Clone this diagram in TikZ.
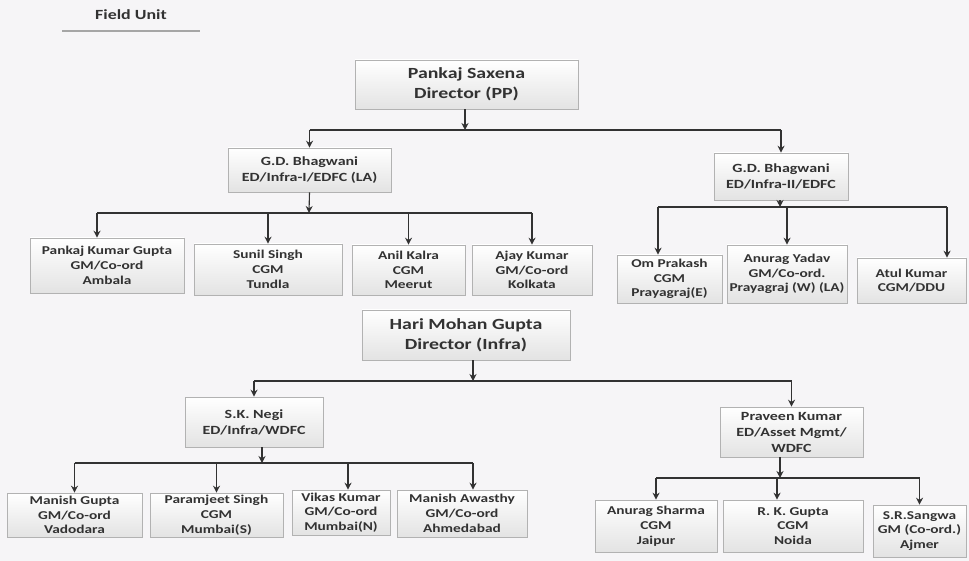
\documentclass[tikz,border=0pt]{standalone}
\usepackage{fontspec}
\setmainfont{Carlito}[FakeStretch=1.28]
\usetikzlibrary{arrows.meta,calc}
\definecolor{bg}{RGB}{246,245,247}
\definecolor{ink}{RGB}{50,50,50}
\begin{document}
\begin{tikzpicture}[x=1pt,y=-1pt,
  box/.style={draw=gray!60, line width=0.6pt, top color=white, bottom color=gray!22, align=center, inner sep=1pt, text=ink},
  big/.style={box, font=\fontsize{15.5}{20}\selectfont\bfseries},
  mid/.style={box, font=\fontsize{12.5}{16}\selectfont\bfseries},
  sml/.style={box, font=\fontsize{12}{14.8}\selectfont\bfseries},
  conn/.style={draw=ink, line width=1.1pt},
  arr/.style={conn, -{Stealth[length=7pt,width=7pt]}},
]
\fill[bg] (0,0) rectangle (969,561);
\useasboundingbox (0,0) rectangle (969,561);

% title
\node[font=\fontsize{14}{16}\selectfont\bfseries, text=ink] (fu) at (131,15) {Field Unit};
\coordinate (ul1) at (62,31);
\coordinate (ul2) at (200,31);
\draw[gray!70, line width=1.2pt] (ul1) -- (ul2);

% top group
\node[big, minimum width=223pt, minimum height=49pt] (ps) at (466.5,84.5) {Pankaj Saxena\\Director (PP)};
\node[mid, minimum width=163pt, minimum height=44pt] (ed1) at (309.5,170) {G.D. Bhagwani\\ED/Infra-I/EDFC (LA)};
\node[mid, minimum width=134pt, minimum height=47pt] (ed2) at (781,176.5) {G.D. Bhagwani\\ED/Infra-II/EDFC};

\node[sml, minimum width=154pt, minimum height=55pt] (a1) at (107,265.5) {Pankaj Kumar Gupta\\GM/Co-ord\\Ambala};
\node[sml, minimum width=148pt, minimum height=51pt] (a2) at (268,269.5) {Sunil Singh\\CGM\\Tundla};
\node[sml, minimum width=113pt, minimum height=50pt] (a3) at (408.5,270) {Anil Kalra\\CGM\\Meerut};
\node[sml, minimum width=120pt, minimum height=50pt] (a4) at (532,270) {Ajay Kumar\\GM/Co-ord\\Kolkata};

\node[sml, minimum width=105pt, minimum height=48pt] (b1) at (669.5,279) {Om Prakash\\CGM\\Prayagraj(E)};
\node[sml, minimum width=120pt, minimum height=58pt] (b2) at (787,274) {Anurag Yadav\\GM/Co-ord.\\Prayagraj (W) (LA)};
\node[sml, minimum width=109pt, minimum height=45pt] (b3) at (911.5,280.5) {Atul Kumar\\CGM/DDU};

% bottom group
\node[big, minimum width=208pt, minimum height=50pt] (hm) at (466,335) {Hari Mohan Gupta\\Director (Infra)};
\node[mid, minimum width=138pt, minimum height=50pt] (sk) at (254,422) {S.K. Negi\\ED/Infra/WDFC};
\node[mid, minimum width=143pt, minimum height=50pt] (pk) at (791.5,432) {Praveen Kumar\\ED/Asset Mgmt/\\WDFC};

\node[sml, minimum width=135pt, minimum height=44pt] (c1) at (74.5,515) {Manish Gupta\\GM/Co-ord\\Vadodara};
\node[sml, minimum width=133pt, minimum height=44pt] (c2) at (216.5,515) {Paramjeet Singh\\CGM\\Mumbai(S)};
\node[sml, minimum width=98pt, minimum height=45pt] (c3) at (341,512.5) {Vikas Kumar\\GM/Co-ord\\Mumbai(N)};
\node[sml, minimum width=130pt, minimum height=47pt] (c4) at (462,513.5) {Manish Awasthy\\GM/Co-ord\\Ahmedabad};

\node[sml, minimum width=122pt, minimum height=52pt] (d1) at (656,526) {Anurag Sharma\\CGM\\Jaipur};
\node[sml, minimum width=140pt, minimum height=52pt] (d2) at (793,526) {R. K. Gupta\\CGM\\Noida};
\node[sml, minimum width=93pt, minimum height=52pt] (d3) at (919.5,531) {S.R.Sangwa\\GM (Co-ord.)\\Ajmer};

% buses
\coordinate (bus0) at (465,130);
\coordinate (bus1) at (309,213);
\coordinate (bus2) at (780,207);
\coordinate (bus3) at (473,381);
\coordinate (bus4) at (262,463);
\coordinate (bus5) at (780,478);

% arrow landing points
\coordinate (a1t) at ($(a1.north)+(-10,0)$);
\coordinate (b1t) at ($(b1.north)+(-11.5,0)$);
\coordinate (b3t) at ($(b3.north)+(35.5,0)$);
\coordinate (d2t) at ($(d2.north)+(-16,0)$);
\coordinate (c4t) at ($(c4.north)+(11,0)$);
\coordinate (c3t) at ($(c3.north)+(7,0)$);

% PP tree
\draw[arr] (ps.south -| bus0) -- (bus0);
\draw[conn] (bus0 -| ed1.north) -- (bus0 -| ed2.north);
\draw[arr] (bus0 -| ed1.north) -- (ed1.north);
\draw[arr] (bus0 -| ed2.north) -- (ed2.north);

\draw[arr] (ed1.south) -- (bus1);
\draw[conn] (bus1 -| a1t) -- (bus1 -| a4.north);
\draw[arr] (bus1 -| a1t) -- (a1t);
\draw[arr] (bus1 -| a2.north) -- (a2.north);
\draw[arr] (bus1 -| a3.north) -- (a3.north);
\draw[arr] (bus1 -| a4.north) -- (a4.north);

\draw[arr] (ed2.south -| bus2) -- (bus2);
\draw[conn] (bus2 -| b1t) -- (bus2 -| b3t);
\draw[arr] (bus2 -| b1t) -- (b1t);
\draw[arr] (bus2 -| b2.north) -- (b2.north);
\draw[arr] (bus2 -| b3t) -- (b3t);

% Infra tree
\draw[arr] (hm.south -| bus3) -- (bus3);
\draw[conn] (bus3 -| sk.north) -- (bus3 -| pk.north);
\draw[arr] (bus3 -| sk.north) -- (sk.north);
\draw[arr] (bus3 -| pk.north) -- (pk.north);

\draw[arr] (sk.south -| bus4) -- (bus4);
\draw[conn] (bus4 -| c1.north) -- (bus4 -| c4t);
\draw[arr] (bus4 -| c1.north) -- (c1.north);
\draw[arr] (bus4 -| c2.north) -- (c2.north);
\draw[arr] (bus4 -| c3t) -- (c3t);
\draw[arr] (bus4 -| c4t) -- (c4t);

\draw[arr] (pk.south -| bus5) -- (bus5);
\draw[conn] (bus5 -| d1.north) -- (bus5 -| d3.north);
\draw[arr] (bus5 -| d1.north) -- (d1.north);
\draw[arr] (bus5 -| d2t) -- (d2t);
\draw[arr] (bus5 -| d3.north) -- (d3.north);
\end{tikzpicture}
\end{document}
